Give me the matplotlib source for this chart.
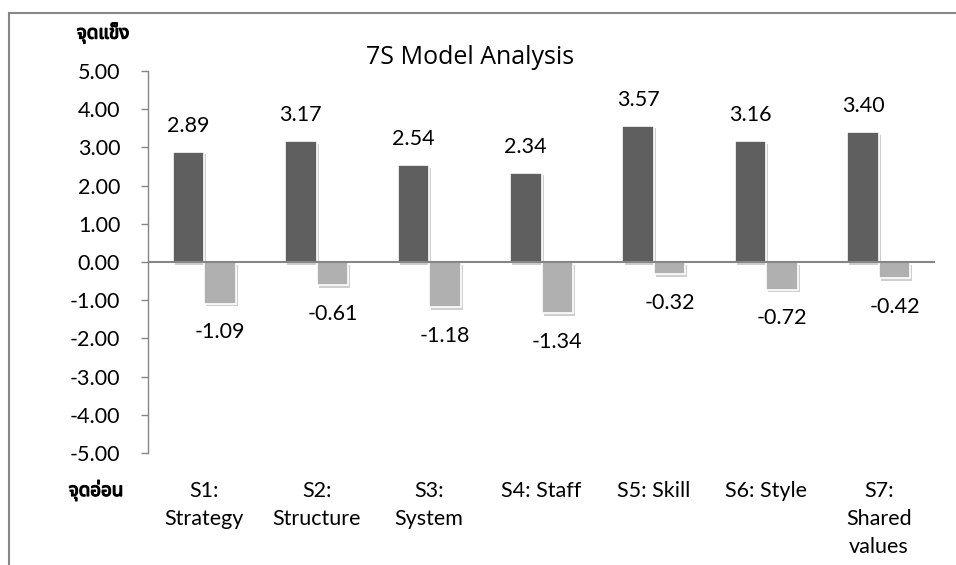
import matplotlib
matplotlib.use('Agg')
import matplotlib.pyplot as plt
import matplotlib.patheffects as pe
from matplotlib.patches import Rectangle
import numpy as np

# Data
categories = ['S1:\nStrategy', 'S2:\nStructure', 'S3:\nSystem', 'S4: Staff',
              'S5: Skill', 'S6: Style', 'S7:\nShared\nvalues']
strengths = [2.89, 3.17, 2.54, 2.34, 3.57, 3.16, 3.40]
weaknesses = [-1.09, -0.61, -1.18, -1.34, -0.32, -0.72, -0.42]
yticks = [5, 4, 3, 2, 1, 0, -1, -2, -3, -4, -5]

plt.rcParams['font.family'] = ['Lato', 'Noto Sans Thai', 'DejaVu Sans']
fs = 15.5

fig = plt.figure(figsize=(9.56, 5.65), dpi=100)
ax = fig.add_axes([148 / 956, 1 - 453 / 565, (935 - 148) / 956, (453 - 71) / 565])

x = np.arange(len(categories))
w = 0.28
shadow = [pe.SimplePatchShadow(offset=(1.5, -2), shadow_rgbFace='#777777', alpha=0.35), pe.Normal()]

dark = ax.bar(x - w / 2, strengths, width=w, color='#5f5f5f', edgecolor='white', linewidth=1.2, zorder=3)
light = ax.bar(x + w / 2, weaknesses, width=w, color='#b0b0b0', edgecolor='white', linewidth=1.2, zorder=3)
for b in list(dark) + list(light):
    b.set_path_effects(shadow)

for xi, v in zip(x, strengths):
    ax.text(xi - w / 2, v + 0.68, f'{v:.2f}', ha='center', va='center', fontsize=fs)
for xi, v in zip(x, weaknesses):
    ax.text(xi + w / 2, v - 0.75, f'{v:.2f}', ha='center', va='center', fontsize=fs)

ax.axhline(0, color='#868686', linewidth=1.5, zorder=4)

ax.set_xlim(-0.5, len(categories) - 0.5)
ax.set_ylim(-5, 5)
ax.set_yticks(yticks)
ax.set_yticklabels([f'{t:.2f}' for t in yticks], fontsize=fs)
ax.set_xticks(x)
ax.set_xticklabels(categories, fontsize=fs, linespacing=1.5, va='top')
ax.tick_params(axis='x', length=0, pad=20)
ax.tick_params(axis='y', length=5, width=1, color='#868686', pad=15)

for s in ['top', 'right', 'bottom']:
    ax.spines[s].set_visible(False)
ax.spines['left'].set_color('#868686')
ax.spines['left'].set_linewidth(1)

fig.text(470 / 956, 1 - 57 / 565, '7S Model Analysis', ha='center', va='center', fontsize=18,
         family=['Open Sans', 'DejaVu Sans'])

# Thai font has no bold face here, so thicken with a stroke
bold = [pe.withStroke(linewidth=0.9, foreground='black')]
fig.text(103 / 956, 1 - 33 / 565, 'จุดแข็ง', ha='center', va='center', fontsize=13.5, path_effects=bold)
fig.text(96 / 956, 1 - 490 / 565, 'จุดอ่อน', ha='center', va='center', fontsize=13.5, path_effects=bold)

# outer chart border
fig.add_artist(Rectangle((9 / 956, -0.1), 1.2, 1.1 - 13 / 565, transform=fig.transFigure,
                         fill=False, edgecolor='#878787', linewidth=1.5))

fig.savefig('out.png', dpi=100)
